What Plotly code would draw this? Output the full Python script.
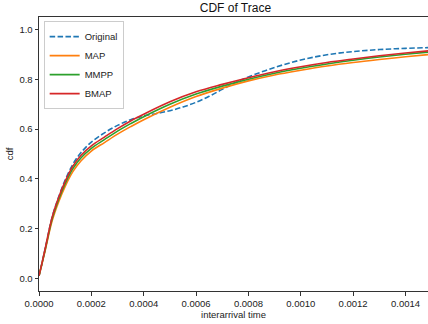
import plotly.graph_objects as go

# Data
x_orig = [0, 0.00001, 0.000025, 0.00005, 0.000075, 0.0001, 0.00013, 0.00016, 0.0002,
          0.00025, 0.0003, 0.00035, 0.0004, 0.00045, 0.0005, 0.00055, 0.0006, 0.00065,
          0.0007, 0.00075, 0.0008, 0.0009, 0.001, 0.0011, 0.0012, 0.0013, 0.0014, 0.0015]
y_orig = [0.01, 0.055, 0.126, 0.245, 0.327, 0.395, 0.46, 0.505, 0.548,
          0.585, 0.615, 0.638, 0.653, 0.663, 0.674, 0.689, 0.708, 0.732,
          0.76, 0.787, 0.81, 0.848, 0.878, 0.899, 0.912, 0.920, 0.925, 0.928]

x_fit = [0, 0.00001, 0.000025, 0.00005, 0.000075, 0.0001, 0.00013, 0.00016, 0.0002,
         0.00025, 0.0003, 0.00035, 0.0004, 0.0005, 0.0006, 0.0007, 0.0008, 0.0009,
         0.001, 0.0011, 0.0012, 0.0013, 0.0014, 0.0015]
y_map = [0.01, 0.052, 0.118, 0.230, 0.307, 0.370, 0.430, 0.472, 0.512, 0.546, 0.580,
         0.610, 0.638, 0.688, 0.731, 0.765, 0.794, 0.818, 0.837, 0.854, 0.868, 0.880,
         0.891, 0.901]
y_mmpp = [0.01, 0.053, 0.122, 0.238, 0.317, 0.381, 0.442, 0.484, 0.523, 0.558, 0.592,
          0.622, 0.650, 0.700, 0.741, 0.773, 0.801, 0.825, 0.845, 0.862, 0.877, 0.890,
          0.901, 0.911]
y_bmap = [0.01, 0.055, 0.126, 0.245, 0.325, 0.390, 0.452, 0.494, 0.533, 0.568, 0.602,
          0.633, 0.660, 0.710, 0.750, 0.780, 0.807, 0.831, 0.851, 0.868, 0.882, 0.895,
          0.906, 0.916]

x_ticks = [0, 0.0002, 0.0004, 0.0006, 0.0008, 0.0010, 0.0012, 0.0014]
x_tick_labels = ["0.0000", "0.0002", "0.0004", "0.0006", "0.0008", "0.0010", "0.0012", "0.0014"]
y_ticks = [0.0, 0.2, 0.4, 0.6, 0.8, 1.0]
y_tick_labels = ["0.0", "0.2", "0.4", "0.6", "0.8", "1.0"]

FONT = "Liberation Sans, Arial, sans-serif"

fig = go.Figure()
fig.add_trace(go.Scatter(x=x_orig, y=y_orig, mode="lines", name="Original",
                         line=dict(color="#1f77b4", width=1.6, dash="5.5px,2.4px", shape="spline")))
fig.add_trace(go.Scatter(x=x_fit, y=y_map, mode="lines", name="MAP",
                         line=dict(color="#ff7f0e", width=1.6, shape="spline")))
fig.add_trace(go.Scatter(x=x_fit, y=y_mmpp, mode="lines", name="MMPP",
                         line=dict(color="#2ca02c", width=1.6, shape="spline")))
fig.add_trace(go.Scatter(x=x_fit, y=y_bmap, mode="lines", name="BMAP",
                         line=dict(color="#d62728", width=1.6, shape="spline")))

fig.update_layout(
    width=428, height=324,
    margin=dict(l=39, r=0, t=17, b=33, autoexpand=False),
    paper_bgcolor="white", plot_bgcolor="white",
    font=dict(family=FONT, size=9.5, color="#222"),
    title=dict(text="CDF of Trace", x=0.55, xanchor="center", y=0.99, yanchor="top",
               font=dict(size=12, color="#111")),
    showlegend=True,
    legend=dict(x=0.012, y=0.985, xanchor="left", yanchor="top",
                bordercolor="#cccccc", borderwidth=1, bgcolor="rgba(255,255,255,0.8)",
                font=dict(size=9.5), tracegroupgap=0, itemwidth=30),
)
fig.update_xaxes(range=[0, 0.001486], tickvals=x_ticks, ticktext=x_tick_labels,
                 showgrid=False, zeroline=False, showline=True, linecolor="#333",
                 linewidth=1, mirror=True, ticks="outside", ticklen=3.5, tickcolor="#333",
                 automargin=False,
                 title=dict(text="interarrival time", standoff=2, font=dict(size=9.5)))
fig.update_yaxes(range=[-0.051, 1.051], tickvals=y_ticks, ticktext=y_tick_labels,
                 showgrid=False, zeroline=False, showline=True, linecolor="#333",
                 linewidth=1, ticks="outside", ticklen=3.5, tickcolor="#333",
                 automargin=False,
                 title=dict(text="cdf", standoff=4, font=dict(size=9.5)))

fig.write_html("out.html", config={"displayModeBar": False},
               post_script="document.body.style.margin='0';")
